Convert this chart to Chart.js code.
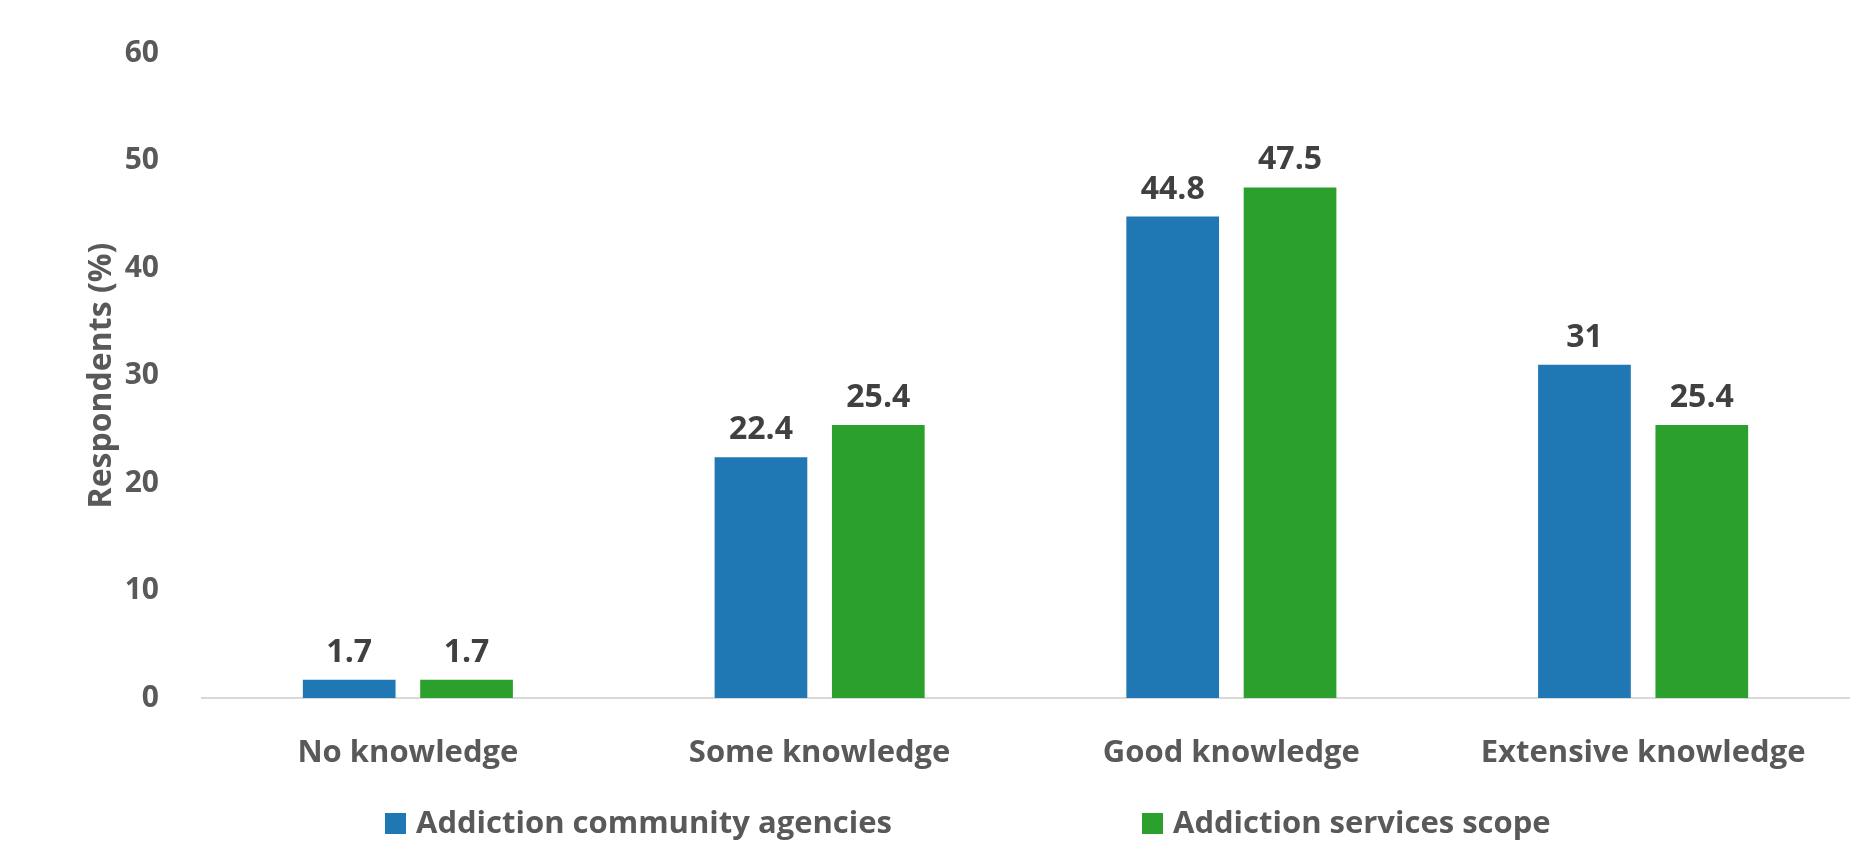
<!DOCTYPE html>
<html>
<head>
<meta charset="utf-8">
<script src="https://cdn.jsdelivr.net/npm/chart.js@4.4.1/dist/chart.umd.min.js"></script>
<style>
  html, body { margin: 0; padding: 0; background: #fff; }
  #wrap { width: 1870px; height: 851px; }
</style>
</head>
<body>
<div id="wrap"><canvas id="myChart" width="1870" height="851"></canvas></div>
<script>
const categories = ['No knowledge', 'Some knowledge', 'Good knowledge', 'Extensive knowledge'];
const seriesNames = ['Addiction community agencies', 'Addiction services scope'];
const agencies = [1.7, 22.4, 44.8, 31];
const scope = [1.7, 25.4, 47.5, 25.4];
const yTicks = [0, 10, 20, 30, 40, 50, 60];

const FONT = '"Open Sans", sans-serif';

// draws the value above each bar
const barLabels = {
  id: 'barLabels',
  afterDatasetsDraw(chart) {
    const c = chart.ctx;
    c.save();
    c.font = `bold 32px ${FONT}`;
    c.fillStyle = '#404040';
    c.textAlign = 'center';
    c.textBaseline = 'bottom';
    chart.data.datasets.forEach((ds, i) => {
      chart.getDatasetMeta(i).data.forEach((bar, j) => {
        c.fillText(String(ds.data[j]), bar.x, bar.y - 11);
      });
    });
    c.restore();
  },
};

// legend under the chart, items spread wide like the original
const wideLegend = {
  id: 'wideLegend',
  afterDraw(chart) {
    const c = chart.ctx;
    const starts = [385, 1142];
    const y = 824;
    c.save();
    c.font = `bold 31px ${FONT}`;
    c.textBaseline = 'middle';
    c.textAlign = 'left';
    chart.data.datasets.forEach((ds, i) => {
      c.fillStyle = ds.backgroundColor;
      c.fillRect(starts[i], y - 11, 21, 21);
      c.fillStyle = '#595959';
      c.fillText(ds.label, starts[i] + 31, y);
    });
    c.restore();
  },
};

const ctx = document.getElementById('myChart').getContext('2d');
const myChart = new Chart(ctx, {
  type: 'bar',
  data: {
    labels: categories,
    datasets: [
      {
        label: seriesNames[0],
        data: agencies,
        backgroundColor: '#1f77b4',
        categoryPercentage: 0.57,
        barPercentage: 0.79,
      },
      {
        label: seriesNames[1],
        data: scope,
        backgroundColor: '#2ca02c',
        categoryPercentage: 0.57,
        barPercentage: 0.79,
      },
    ],
  },
  options: {
    responsive: false,
    animation: false,
    layout: { padding: { left: 83, right: 21, top: 24, bottom: 63 } },
    plugins: {
      legend: { display: false },
      tooltip: { enabled: false },
    },
    scales: {
      x: {
        grid: { display: false },
        border: { color: '#d9d9d9', width: 2 },
        ticks: {
          font: { family: FONT, size: 31, weight: 'bold' },
          color: '#595959',
          padding: 29,
        },
        afterFit(scale) {
          scale.height = 90;
        },
      },
      y: {
        min: 0,
        max: 60,
        afterBuildTicks(scale) {
          scale.ticks = yTicks.map(v => ({ value: v }));
        },
        grid: { display: false },
        border: { display: false },
        ticks: {
          font: { family: FONT, size: 30, weight: 'bold' },
          color: '#595959',
          padding: 35,
        },
        title: {
          display: true,
          text: 'Respondents (%)',
          font: { family: FONT, size: 32, weight: 'bold' },
          color: '#595959',
          padding: 0,
        },
        afterFit(scale) {
          scale.width = 119;
        },
      },
    },
  },
  plugins: [barLabels, wideLegend],
});
</script>
</body>
</html>
